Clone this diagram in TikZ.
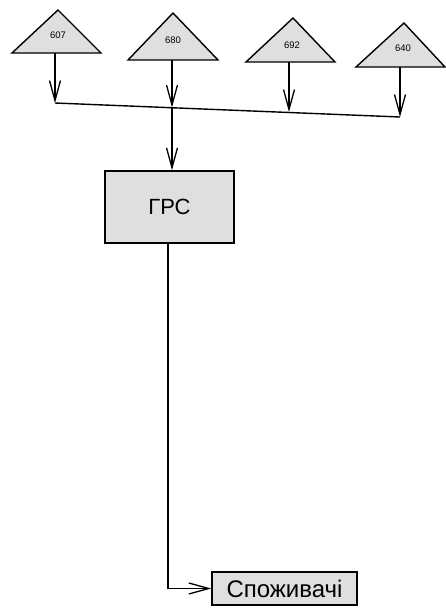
\documentclass[tikz,border=0pt]{standalone}
\usepackage{fontspec}
\setmainfont{Liberation Sans}
\usetikzlibrary{arrows.meta}
\begin{document}
\begin{tikzpicture}[x=1pt,y=-1pt,
  tri/.style={draw=black,line width=1.4pt,fill=gray!25},
  box/.style={draw=black,line width=1.5pt,fill=gray!25,inner sep=0pt},
  lab/.style={font=\fontsize{9.5}{10}\selectfont},
  conn/.style={line width=1.4pt},
  arr/.style={conn,-{Straight Barb[length=20pt,width=11pt,line width=1.3pt]}}]
\useasboundingbox (0,0) rectangle (445,611);
% triangles
\draw[tri] (12,53) -- (58,10) -- (101,53) -- cycle;
\draw[tri] (128,60) -- (173,13) -- (218,60) -- cycle;
\draw[tri] (246,62) -- (293,18) -- (335,62) -- cycle;
\draw[tri] (356,67) -- (404,23) -- (445,67) -- cycle;
\node[lab] (t1) at (58,35) {607};
\node[lab] (t2) at (173,40) {680};
\node[lab] (t3) at (292,45) {692};
\node[lab] (t4) at (403,48) {640};
\coordinate (b1) at (55,53);
\coordinate (b2) at (172,60);
\coordinate (b3) at (289,62);
\coordinate (b4) at (400,67);
% bus
\coordinate (j1) at (55,103);
\coordinate (j2) at (172,107.5);
\coordinate (j3) at (289,112);
\coordinate (j4) at (400,117);
\draw[conn] (j1) -- (j4);
\draw[arr] (b1) -- (j1);
\draw[arr] (b2) -- (j2);
\draw[arr] (b3) -- (j3);
\draw[arr] (b4) -- (j4);
% boxes
\node[box,minimum width=129pt,minimum height=72pt,font=\fontsize{22}{24}\selectfont] (grs) at (169.5,207) {ГРС};
\node[box,minimum width=145pt,minimum height=33pt,font=\fontsize{24}{26}\selectfont] (spo) at (284.5,588.5) {Споживачі};
\draw[arr] (j2) -- (grs.north -| j2);
\coordinate (c) at (168,588.5);
\draw[arr] (grs.south -| c) -- (c) -- (spo.west);
\end{tikzpicture}
\end{document}
